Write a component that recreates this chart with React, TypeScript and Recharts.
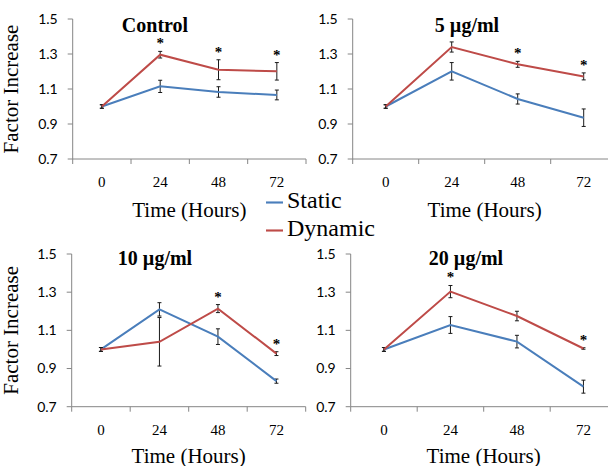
import React from 'react';
import { LineChart, Line, XAxis, YAxis, ErrorBar, LabelList, Legend } from 'recharts';

// ---------- data ----------
const timeCategories = [0, 24, 48, 72];
const yTicks = [0.7, 0.9, 1.1, 1.3, 1.5];
const seriesNames = ['Static', 'Dynamic'];

const controlStatic = [1.0, 1.115, 1.083, 1.066];
const controlStaticErr = [0.01, 0.035, 0.03, 0.028];
const controlDynamic = [1.0, 1.296, 1.21, 1.201];
const controlDynamicErr = [0.01, 0.019, 0.057, 0.05];
const controlSig = [false, true, true, true];

const dose5Static = [1.0, 1.201, 1.043, 0.936];
const dose5StaticErr = [0.01, 0.05, 0.029, 0.05];
const dose5Dynamic = [1.0, 1.34, 1.241, 1.172];
const dose5DynamicErr = [0.01, 0.029, 0.017, 0.02];
const dose5Sig = [false, false, true, true];

const dose10Static = [1.0, 1.21, 1.067, 0.834];
const dose10StaticErr = [0.01, 0.035, 0.041, 0.011];
const dose10Dynamic = [1.0, 1.04, 1.214, 0.978];
const dose10DynamicErr = [0.01, 0.127, 0.021, 0.01];
const dose10Sig = [false, false, true, true];

const dose20Static = [1.0, 1.128, 1.041, 0.805];
const dose20StaticErr = [0.01, 0.044, 0.033, 0.034];
const dose20Dynamic = [1.0, 1.303, 1.175, 1.005];
const dose20DynamicErr = [0.01, 0.032, 0.025, 0.004];
const dose20Sig = [false, true, false, true];

// ---------- styles ----------
const SERIF = "'Liberation Serif', 'Times New Roman', Times, serif";
const SANS = "Lato, Carlito, Calibri, 'Open Sans', sans-serif";
const STATIC_COLOR = '#4a7ebb';
const DYNAMIC_COLOR = '#be4b48';
const AXIS_COLOR = '#868686';

const halfStep = (timeCategories[1] - timeCategories[0]) / 2;
const lastCat = timeCategories[timeCategories.length - 1];
const xDomain: [number, number] = [timeCategories[0] - halfStep, lastCat + halfStep];
const xBoundaries = [...timeCategories.map((t) => t - halfStep), lastCat + halfStep];
const xTickValues = [...xBoundaries, ...timeCategories].sort((a, b) => a - b);

function buildData(s: number[], sErr: number[], d: number[], dErr: number[], sig: boolean[]) {
  return timeCategories.map((t, i) => ({
    time: t,
    s: s[i],
    sErr: sErr[i],
    d: d[i],
    dErr: dErr[i],
    star: sig[i] ? d[i] + dErr[i] : null,
  }));
}

const TimeTick = (props: any) => {
  const { x, y, payload } = props;
  const v = payload ? payload.value : null;
  if (timeCategories.includes(v)) {
    return (
      <text x={x} y={y + 28} textAnchor="middle" fontFamily={SERIF} style={{ fontFamily: SERIF }} fontSize={15} fill="#000">
        {v}
      </text>
    );
  }
  return <line x1={x} y1={y} x2={x} y2={y + 5} stroke={AXIS_COLOR} strokeWidth={1} />;
};

const StarLabel = (props: any) => {
  const { x, y, value } = props;
  if (value == null || x == null || y == null || isNaN(y)) return null;
  return (
    <text x={x} y={y - 3} textAnchor="middle" style={{ fontFamily: SERIF }} fontWeight="bold" fontSize={15} fill="#000">
      *
    </text>
  );
};

type PanelProps = {
  left: number;
  top: number;
  width: number;
  height: number;
  marginTop: number;
  marginRight: number;
  yAxisWidth: number;
  xAxisHeight: number;
  xTitleOffset: number;
  data: any[];
  title: string;
  titleX: number;
  titleTop: number;
  showYTitle?: boolean;
  showLegend?: boolean;
};

function Panel(p: PanelProps) {
  return (
    <div style={{ position: 'absolute', left: p.left, top: p.top, width: p.width, height: p.height, fontFamily: SERIF }}>
      <LineChart
        width={p.width}
        height={p.height}
        data={p.data}
        margin={{ top: p.marginTop, right: p.marginRight, left: 0, bottom: 0 }}
      >
        <XAxis
          dataKey="time"
          type="number"
          domain={xDomain}
          ticks={xTickValues}
          interval={0}
          allowDataOverflow
          tick={(tp: any) => <TimeTick {...tp} />}
          tickLine={false}
          tickSize={0}
          tickMargin={0}
          stroke={AXIS_COLOR}
          height={p.xAxisHeight}
          label={{
            value: 'Time (Hours)',
            position: 'insideBottom',
            offset: p.xTitleOffset,
            style: { fontFamily: SERIF, fontSize: 21, fill: '#000' },
          }}
        />
        <YAxis
          type="number"
          domain={[0.7, 1.5]}
          ticks={yTicks}
          interval={0}
          allowDataOverflow
          tickFormatter={(v: number) => v.toFixed(1)}
          width={p.yAxisWidth}
          tickSize={5}
          tickMargin={10}
          stroke={AXIS_COLOR}
          tick={{ fill: '#000', fontFamily: SANS, fontSize: 14 }}
          label={
            p.showYTitle
              ? {
                  value: 'Factor Increase',
                  angle: -90,
                  position: 'insideLeft',
                  offset: 10.5,
                  textAnchor: 'middle',
                  style: { fontFamily: SERIF, fontSize: 21, fill: '#000', textAnchor: 'middle' },
                }
              : undefined
          }
        />
        <Line
          dataKey="s"
          name={seriesNames[0]}
          stroke={STATIC_COLOR}
          strokeWidth={2}
          dot={false}
          activeDot={false}
          isAnimationActive={false}
        >
          <ErrorBar dataKey="sErr" direction="y" width={2} stroke="#1a1a1a" strokeWidth={1} />
        </Line>
        <Line
          dataKey="d"
          name={seriesNames[1]}
          stroke={DYNAMIC_COLOR}
          strokeWidth={2}
          dot={false}
          activeDot={false}
          isAnimationActive={false}
        >
          <ErrorBar dataKey="dErr" direction="y" width={2} stroke="#1a1a1a" strokeWidth={1} />
        </Line>
        <Line
          dataKey="star"
          stroke="none"
          dot={false}
          activeDot={false}
          legendType="none"
          isAnimationActive={false}
        >
          <LabelList dataKey="star" content={(lp: any) => <StarLabel {...lp} />} />
        </Line>
        {p.showLegend && (
          <Legend
            layout="vertical"
            align="center"
            verticalAlign="middle"
            iconType="plainline"
            iconSize={17}
            itemSorter={(item: any) => seriesNames.indexOf(item && item.value)}
            formatter={(v: any) => <span style={{ color: '#000', fontFamily: SERIF }}>{v}</span>}
            wrapperStyle={{
              left: 266,
              top: 186,
              width: 'auto',
              fontFamily: SERIF,
              fontSize: 24,
              lineHeight: '28px',
            }}
          />
        )}
      </LineChart>
      <div
        style={{
          position: 'absolute',
          left: p.titleX,
          top: p.titleTop,
          transform: 'translateX(-50%)',
          whiteSpace: 'nowrap',
          fontFamily: SERIF,
          fontWeight: 'bold',
          fontSize: 20,
          lineHeight: '20px',
          color: '#000',
        }}
      >
        {p.title}
      </div>
    </div>
  );
}

export default function App() {
  return (
    <div
      style={{
        position: 'absolute',
        left: 0,
        top: 0,
        width: 608,
        height: 466,
        overflow: 'hidden',
        background: '#fff',
      }}
    >
      <Panel
        left={300}
        top={0}
        width={330}
        height={230}
        marginTop={19}
        marginRight={13.3}
        yAxisWidth={52.7}
        xAxisHeight={71}
        xTitleOffset={13.5}
        data={buildData(dose5Static, dose5StaticErr, dose5Dynamic, dose5DynamicErr, dose5Sig)}
        title="5 µg/ml"
        titleX={167}
        titleTop={15.3}
      />
      <Panel
        left={300}
        top={230}
        width={330}
        height={236}
        marginTop={24}
        marginRight={13.3}
        yAxisWidth={50.7}
        xAxisHeight={59.3}
        xTitleOffset={3.5}
        data={buildData(dose20Static, dose20StaticErr, dose20Dynamic, dose20DynamicErr, dose20Sig)}
        title="20 µg/ml"
        titleX={166}
        titleTop={18.3}
      />
      <Panel
        left={0}
        top={230}
        width={310}
        height={236}
        marginTop={24}
        marginRight={4.3}
        yAxisWidth={71.7}
        xAxisHeight={59.3}
        xTitleOffset={3.5}
        data={buildData(dose10Static, dose10StaticErr, dose10Dynamic, dose10DynamicErr, dose10Sig)}
        title="10 µg/ml"
        titleX={155}
        titleTop={18.3}
        showYTitle
      />
      <Panel
        left={0}
        top={0}
        width={310}
        height={230}
        marginTop={19}
        marginRight={4}
        yAxisWidth={72.7}
        xAxisHeight={71}
        xTitleOffset={13.5}
        data={buildData(controlStatic, controlStaticErr, controlDynamic, controlDynamicErr, controlSig)}
        title="Control"
        titleX={155}
        titleTop={15.3}
        showYTitle
        showLegend
      />
    </div>
  );
}
